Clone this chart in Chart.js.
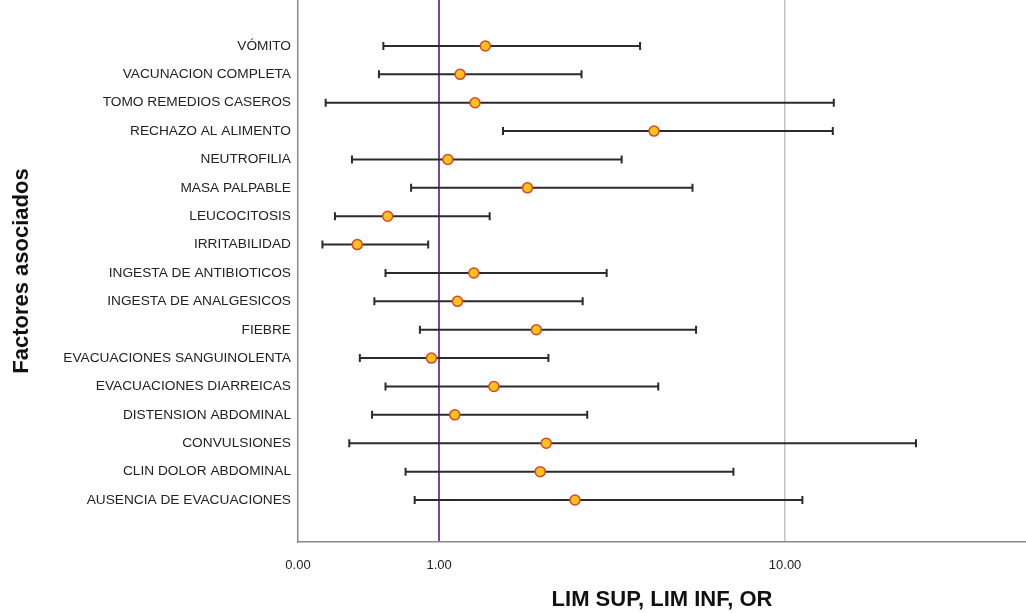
<!DOCTYPE html>
<html><head><meta charset="utf-8">
<script src="https://cdn.jsdelivr.net/npm/chart.js@4/dist/chart.umd.min.js"></script>
<style>html,body{margin:0;padding:0;background:#fff}#wrap{width:1026px;height:613px;position:relative}</style>
</head><body><div id="wrap"><canvas id="c" width="1026" height="613"></canvas></div>
<script>
const factors = ['VÓMITO','VACUNACION COMPLETA','TOMO REMEDIOS CASEROS','RECHAZO AL ALIMENTO','NEUTROFILIA','MASA PALPABLE','LEUCOCITOSIS','IRRITABILIDAD','INGESTA DE ANTIBIOTICOS','INGESTA DE ANALGESICOS','FIEBRE','EVACUACIONES SANGUINOLENTA','EVACUACIONES DIARREICAS','DISTENSION ABDOMINAL','CONVULSIONES','CLIN DOLOR ABDOMINAL','AUSENCIA DE EVACUACIONES'];
const oddsRatio  = [1.36,1.15,1.27,4.18,1.06,1.80,0.71,0.58,1.26,1.13,1.91,0.95,1.44,1.11,2.04,1.96,2.47];
const lowerLimit = [0.69,0.67,0.47,1.53,0.56,0.83,0.50,0.46,0.70,0.65,0.88,0.59,0.70,0.64,0.55,0.80,0.85];
const upperLimit = [3.81,2.58,13.83,13.74,3.37,5.40,1.40,0.93,3.05,2.60,5.53,2.07,4.30,2.68,23.9,7.09,11.22];
const X_MIN = 0.391, X_MAX = 49.7;
const xTickValues = [X_MIN, 1, 10];
const xTickLabels = ['0.00', '1.00', '10.00'];
const FONT = "'Liberation Sans', Arial, sans-serif";

const whiskerPlugin = {
  id: 'whiskers',
  beforeDatasetsDraw(chart) {
    const {ctx, scales: {x, y}} = chart;
    ctx.save();
    ctx.strokeStyle = '#2b2b2b';
    ctx.lineWidth = 2;
    factors.forEach((f, i) => {
      const py = y.getPixelForValue(i);
      const x0 = x.getPixelForValue(lowerLimit[i]);
      const x1 = x.getPixelForValue(upperLimit[i]);
      ctx.beginPath(); ctx.moveTo(x0, py); ctx.lineTo(x1, py); ctx.stroke();
      ctx.beginPath(); ctx.moveTo(x0, py - 4); ctx.lineTo(x0, py + 4);
      ctx.moveTo(x1, py - 4); ctx.lineTo(x1, py + 4); ctx.stroke();
    });
    ctx.restore();
  }
};

new Chart(document.getElementById('c'), {
  type: 'scatter',
  data: {
    datasets: [{
      data: oddsRatio.map((v, i) => ({x: v, y: i})),
      pointRadius: 5,
      pointHoverRadius: 5,
      pointBackgroundColor: '#FFC21A',
      pointBorderColor: '#D8472A',
      pointBorderWidth: 1.5,
      clip: false
    }]
  },
  options: {
    responsive: false,
    animation: false,
    layout: {padding: 0, autoPadding: false},
    plugins: {legend: {display: false}, tooltip: {enabled: false}},
    scales: {
      x: {
        type: 'logarithmic',
        position: 'bottom',
        min: X_MIN, max: X_MAX,
        afterBuildTicks: s => { s.ticks = xTickValues.map(v => ({value: v})); },
        afterFit: s => { s.height = 71; s.paddingLeft = 0; s.paddingRight = 0; },
        ticks: {
          font: {family: FONT, size: 13}, color: '#222', padding: 16, maxRotation: 0, autoSkip: false,
          callback: (v, i) => xTickLabels[i]
        },
        grid: {
          drawTicks: false,
          color: c => c.tick && c.tick.value === 1 ? '#74479b' : (c.tick && c.tick.value === 10 ? '#c4c4c4' : 'rgba(0,0,0,0)'),
          lineWidth: c => c.tick && c.tick.value === 1 ? 2 : 1.5
        },
        border: {color: '#8a8a8a', width: 1.5},
        title: {display: true, text: 'LIM SUP, LIM INF, OR', font: {family: FONT, size: 22, weight: 'bold'}, color: '#111', padding: {top: 0, bottom: 0}}
      },
      y: {
        type: 'linear',
        reverse: true,
        min: -1.62, max: 17.48,
        afterBuildTicks: s => { s.ticks = factors.map((f, i) => ({value: i})); },
        afterFit: s => { s.width = 298; s.paddingTop = 0; s.paddingBottom = 0; },
        ticks: {
          font: {family: FONT, size: 13.7}, color: '#222', padding: 7, autoSkip: false,
          callback: v => factors[v]
        },
        grid: {display: false, drawTicks: false},
        border: {color: '#8a8a8a', width: 1.5},
        title: {display: true, text: 'Factores asociados', font: {family: FONT, size: 22, weight: 'bold'}, color: '#111', padding: {top: 9, bottom: 0}}
      }
    }
  },
  plugins: [whiskerPlugin]
});
</script></body></html>
